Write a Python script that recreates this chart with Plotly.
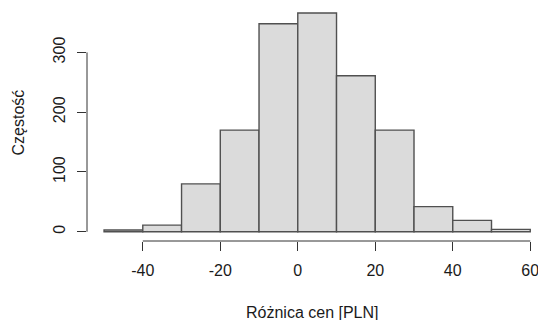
import plotly.graph_objects as go

# Histogram data (bins of width 10)
bin_starts = [-50, -40, -30, -20, -10, 0, 10, 20, 30, 40, 50]
counts = [3, 11, 80, 170, 348, 366, 261, 170, 42, 19, 4]
bin_width = 10
x_ticks = [-40, -20, 0, 20, 40, 60]
y_ticks = [0, 100, 200, 300]
x_title = "Różnica cen [PLN]"
y_title = "Częstość"

centers = [s + bin_width / 2 for s in bin_starts]

FONT = "Liberation Sans, Arial, Helvetica, sans-serif"
TXT = "#1a1a1a"
AX = "#333333"

fig = go.Figure(go.Bar(
    x=centers, y=counts, width=bin_width,
    marker=dict(color="#dbdbdb", line=dict(color="#505050", width=1.4)),
    hoverinfo="skip",
))

fig.update_layout(
    width=538, height=320,
    margin=dict(l=87, r=0, t=4, b=79, autoexpand=False),
    paper_bgcolor="white", plot_bgcolor="white",
    showlegend=False, bargap=0, hovermode=False,
    font=dict(family=FONT, size=16, color=TXT),
    xaxis=dict(range=[-54.4, 62], tickvals=x_ticks, ticktext=[str(v) for v in x_ticks],
               ticks="outside", ticklen=9, tickwidth=1, tickcolor=AX,
               showline=False, showgrid=False, zeroline=False, automargin=False,
               ticklabeloverflow="allow", fixedrange=True,
               ticklabelstandoff=6, tickfont=dict(size=16, color=TXT)),
    yaxis=dict(range=[-15.5, 381], tickvals=y_ticks, ticktext=[str(v) for v in y_ticks],
               ticks="outside", ticklen=9, tickwidth=1, tickcolor=AX, tickangle=-90,
               showline=False, showgrid=False, zeroline=False, automargin=False,
               ticklabeloverflow="allow", fixedrange=True,
               ticklabelstandoff=6, tickfont=dict(size=16, color=TXT)),
    shapes=[
        dict(type="line", xref="x", yref="paper", x0=x_ticks[0], x1=x_ticks[-1], y0=0, y1=0,
             line=dict(color=AX, width=1)),
        dict(type="line", xref="paper", yref="y", x0=0, x1=0, y0=y_ticks[0], y1=y_ticks[-1],
             line=dict(color=AX, width=1)),
    ],
    annotations=[
        dict(text=x_title, xref="paper", yref="paper", x=0.5, y=0, xanchor="center",
             yanchor="middle", yshift=-71, showarrow=False, font=dict(size=16, color=TXT)),
        dict(text=y_title, xref="paper", yref="paper", x=0, y=0.5, xanchor="center",
             yanchor="middle", xshift=-69, textangle=-90, showarrow=False,
             font=dict(size=16, color=TXT)),
    ],
)

fig.write_html("out.html",
               config={"displayModeBar": False, "staticPlot": True},
               post_script="document.body.style.margin='0';document.body.style.overflow='hidden';")
